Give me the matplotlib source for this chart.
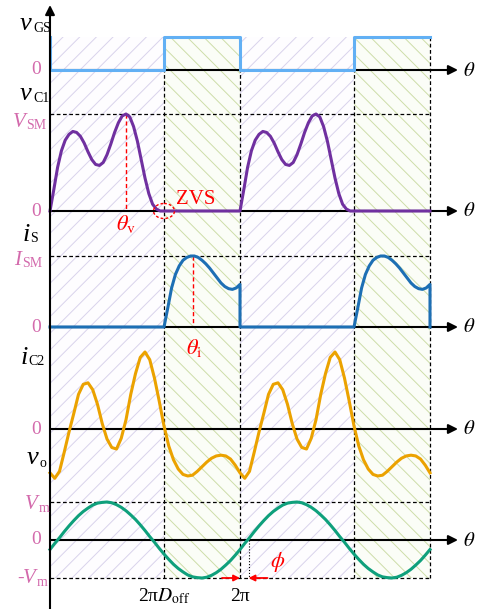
import matplotlib.pyplot as plt
import numpy as np
from matplotlib.patches import Ellipse

plt.rcParams['font.family'] = ['Liberation Serif', 'DejaVu Serif']
plt.rcParams['mathtext.fontset'] = 'stix'
plt.rcParams['hatch.linewidth'] = 0.7

# switching instants, theta in periods (theta / 2pi)
D_OFF = 0.6
PHI = 0.045
THETA_V = 0.40
THETA_I = 0.75
SWITCH_EDGES = [0.0, 0.6, 1.0, 1.6, 2.0]
VGS_LEVELS = [0, 1, 0, 1]

# v_C1 over the off interval, normalised to V_SM
VC1_THETA = np.linspace(0.0, 0.6, 31)
VC1 = [0.00, 0.22, 0.45, 0.62, 0.73, 0.79, 0.82, 0.81, 0.77, 0.70, 0.61,
       0.53, 0.48, 0.47, 0.50, 0.58, 0.69, 0.81, 0.91, 0.98, 1.00, 0.97,
       0.87, 0.72, 0.53, 0.34, 0.18, 0.07, 0.02, 0.00, 0.00]

# i_S over the on interval, normalised to I_SM
IS_THETA = np.linspace(0.6, 1.0, 21)
IS = [0.00, 0.27, 0.55, 0.74, 0.86, 0.94, 0.98, 1.00, 1.00, 0.98, 0.94,
      0.89, 0.83, 0.76, 0.69, 0.62, 0.57, 0.54, 0.53, 0.55, 0.60]

# one period of i_C2 and v_o
CYCLE_THETA = np.linspace(0.0, 1.0, 41)
IC2 = [-0.57, -0.64, -0.55, -0.30, -0.04, 0.20, 0.45, 0.58, 0.60, 0.51, 0.32,
       0.07, -0.13, -0.24, -0.26, -0.12, 0.12, 0.45, 0.72, 0.93, 1.00, 0.90,
       0.66, 0.36, 0.04, -0.22, -0.40, -0.52, -0.59, -0.61, -0.60, -0.55,
       -0.49, -0.43, -0.38, -0.35, -0.34, -0.35, -0.39, -0.47, -0.57]
VO = [-0.25, -0.09, 0.06, 0.22, 0.37, 0.51, 0.64, 0.75, 0.84, 0.92, 0.97,
      0.99, 1.00, 0.98, 0.93, 0.86, 0.77, 0.66, 0.54, 0.40, 0.25, 0.09,
      -0.06, -0.22, -0.37, -0.51, -0.64, -0.75, -0.84, -0.92, -0.97, -0.99,
      -1.00, -0.98, -0.93, -0.86, -0.77, -0.66, -0.54, -0.40, -0.25]

# row layout: zero line and unit height (in pixels from the top)
W, H = 482, 609
X0, XW = 50, 190
BASE = {'vgs': 70, 'vc1': 211, 'is': 327, 'ic2': 429, 'vo': 540}
SCALE = {'vgs': 33, 'vc1': 97, 'is': 71, 'ic2': 77, 'vo': 38}

PINK = '#d36aac'
COLORS = {'vgs': '#62b0f4', 'vc1': '#7030a0', 'is': '#1d6fb4',
          'ic2': '#eba200', 'vo': '#0fa07c'}


def y_of(row, v):
    return BASE[row] - np.asarray(v, float) * SCALE[row]


def px(x):
    return (x - X0) / XW


fig = plt.figure(figsize=(W / 100, H / 100), dpi=100)
ax = fig.add_axes([0, 0, 1, 1])
ax.set_xlim(px(0), px(W))
ax.set_ylim(H, 0)
ax.axis('off')

top, bottom = y_of('vgs', 1), y_of('vo', -1)

# off / on interval shading
for a, b, lvl in zip(SWITCH_EDGES[:-1], SWITCH_EDGES[1:], VGS_LEVELS):
    if lvl:
        ax.fill_between([a, b], top, bottom, facecolor='#fbfdf7',
                        edgecolor='#cddda8', hatch='\\\\', linewidth=0, zorder=0)
    else:
        ax.fill_between([a, b], top, bottom, facecolor='#fefdff',
                        edgecolor='#d9d3ec', hatch='//', linewidth=0, zorder=0)

# dashed guide lines
for x in SWITCH_EDGES[1:]:
    ax.plot([x, x], [top, bottom], color='k', lw=0.9, ls='--',
            dashes=(3, 2), zorder=1)
for y in [y_of('vc1', 1), y_of('is', 1), y_of('vo', 1), y_of('vo', -1)]:
    ax.plot([0, 2], [y, y], color='k', lw=0.9, ls='--', dashes=(3, 2), zorder=1)

# axes with arrows
arrow_kw = dict(arrowstyle='-|>', color='k', lw=1.5, mutation_scale=14,
                shrinkA=0, shrinkB=0)
for row in BASE:
    ax.annotate('', xy=(px(458), BASE[row]), xytext=(0, BASE[row]),
                arrowprops=arrow_kw, zorder=3)
    ax.text(px(469), BASE[row] + 1, r'$\theta$', fontsize=15,
            ha='center', va='center')
ax.annotate('', xy=(0, 5), xytext=(0, H), arrowprops=arrow_kw, zorder=5)

# v_GS
xs, ys = [0.0], [1]
for a, b, lvl in zip(SWITCH_EDGES[:-1], SWITCH_EDGES[1:], VGS_LEVELS):
    xs += [a, b]
    ys += [lvl, lvl]
ax.plot(xs, y_of('vgs', ys), color=COLORS['vgs'], lw=2.2, zorder=4)

# v_C1
xs, ys = [], []
for k in (0, 1):
    xs += list(VC1_THETA + k) + [1.0 + k]
    ys += VC1 + [0]
ax.plot(xs, y_of('vc1', ys), color=COLORS['vc1'], lw=2.2, zorder=4)

# i_S
xs, ys = [], []
for k in (0, 1):
    xs += [k, k + D_OFF] + list(IS_THETA + k) + [1.0 + k]
    ys += [0, 0] + IS + [0]
ax.plot(xs, y_of('is', ys), color=COLORS['is'], lw=2.2, zorder=4)

# i_C2 and v_o
two_cycles = np.concatenate([CYCLE_THETA, CYCLE_THETA[1:] + 1])
ax.plot(two_cycles, y_of('ic2', IC2 + IC2[1:]), color=COLORS['ic2'],
        lw=2.2, zorder=4)
ax.plot(two_cycles, y_of('vo', VO + VO[1:]), color=COLORS['vo'],
        lw=2.2, zorder=4)


def ftext(x, y, s, **kw):
    fig.text(x / W, 1 - y / H, s, va='baseline', **kw)


# left labels
for x, y, s, sx, sy, sub in [(20, 30, 'v', 33, 32, 'GS'),
                             (20, 100, 'v', 33, 102, 'C1'),
                             (23, 241, 'i', 30, 242, 'S'),
                             (21, 364, 'i', 28, 365, 'C2'),
                             (27, 464, 'v', 40, 467, 'o')]:
    ftext(x, y, s, fontsize=19, style='italic')
    ftext(sx, sy, sub, fontsize=10)
for x, y, s, sx, sy, sub in [(13, 127, 'V', 26, 129, 'SM'),
                             (14, 265, 'I', 22, 267, 'SM'),
                             (25, 509, 'V', 39, 512, 'm'),
                             (23, 583, 'V', 37, 586, 'm')]:
    ftext(x, y, s, fontsize=15, style='italic', color=PINK)
    ftext(sx, sy, sub, fontsize=10, color=PINK)
ftext(17, 583, '-', fontsize=14, color=PINK)
for row in BASE:
    ax.text(px(41), BASE[row], '0', fontsize=14, color=PINK,
            ha='right', va='center')

# theta-axis tick labels
ax.text(D_OFF, 601, r'2π$D_{\mathrm{off}}$', fontsize=14, ha='center',
        va='baseline')
ax.text(1.0, 601, '2π', fontsize=14, ha='center', va='baseline')

# red annotations
ax.plot([THETA_V] * 2, [y_of('vc1', 1), y_of('vc1', 0)], color='red',
        lw=1, ls='--', dashes=(3, 2), zorder=2)
ax.text(THETA_V, 230, r'$\theta_{\mathrm{v}}$', fontsize=16, color='red',
        ha='center', va='baseline')
ax.plot([THETA_I] * 2, [y_of('is', 1), y_of('is', 0)], color='red',
        lw=1, ls='--', dashes=(3, 2), zorder=2)
ax.text(THETA_I + 0.01, 354, r'$\theta_{\mathrm{i}}$', fontsize=16,
        color='red', ha='center', va='baseline')
ax.text(px(176), 204, 'ZVS', fontsize=15, color='red', va='baseline')
ax.add_patch(Ellipse((D_OFF, BASE['vc1']), 21 / XW, 15, fill=False,
                     edgecolor='red', lw=1, ls=(0, (2, 1.5)), zorder=5))

ax.plot([1 + PHI] * 2, [BASE['vo'], bottom], color='k', lw=0.8, ls=':',
        zorder=2)
red_kw = dict(arrowstyle='-|>', color='red', lw=1.3, mutation_scale=9,
              shrinkA=0, shrinkB=0)
ax.annotate('', xy=(1.0, bottom), xytext=(1.0 - 18 / XW, bottom),
            arrowprops=red_kw, zorder=5)
ax.annotate('', xy=(1 + PHI, bottom), xytext=(1 + PHI + 19 / XW, bottom),
            arrowprops=red_kw, zorder=5)
ax.text(px(278), 567, r'$\phi$', fontsize=16, color='red', ha='center',
        va='baseline')

fig.savefig('out.png', dpi=100)
